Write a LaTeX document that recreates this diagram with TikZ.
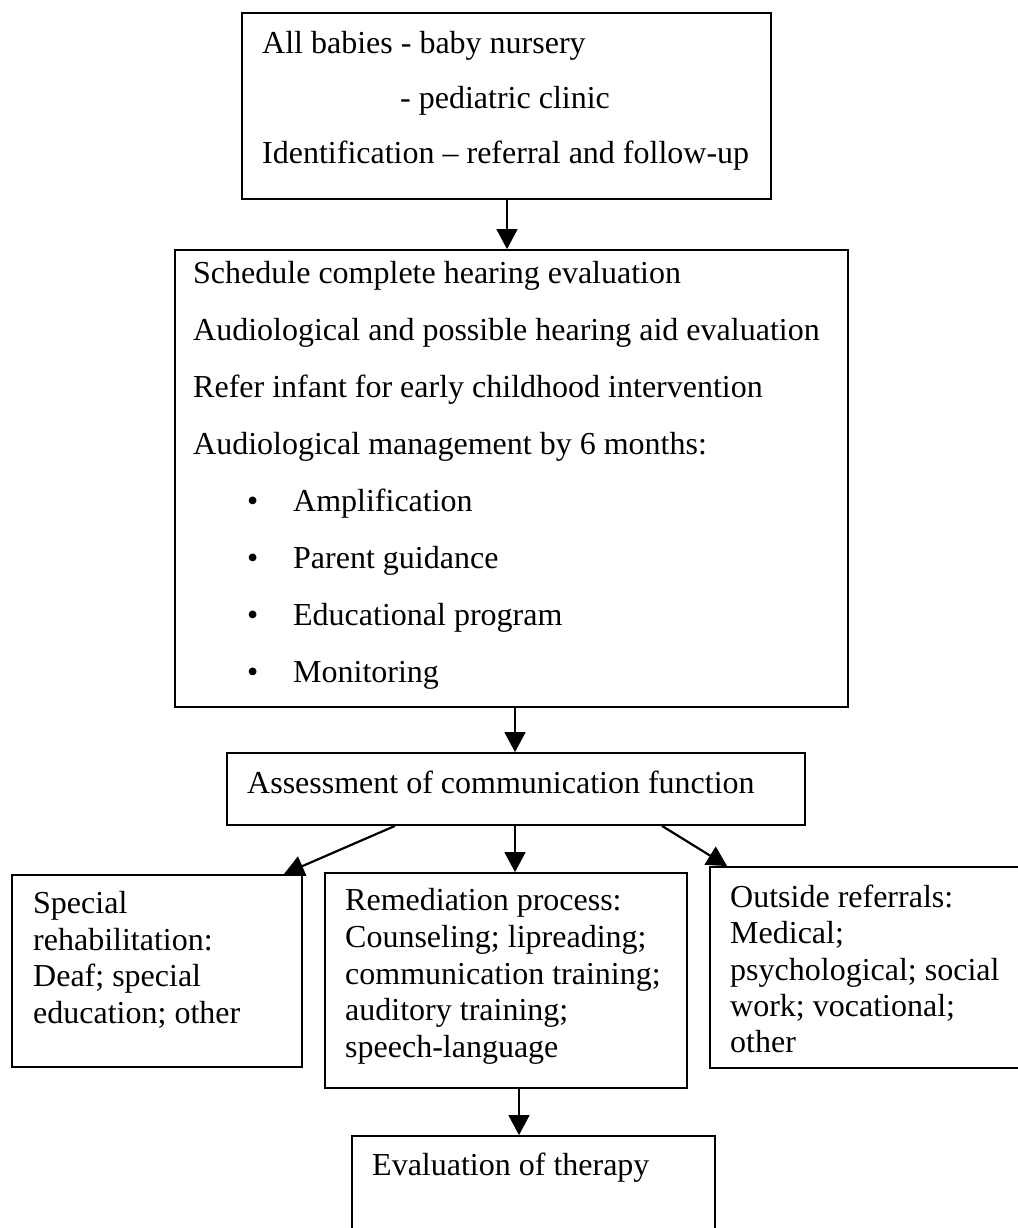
\documentclass[tikz,border=0pt]{standalone}
\usepackage{fontspec}
\setmainfont{Liberation Serif}
\usetikzlibrary{arrows.meta}
\begin{document}
\begin{tikzpicture}[x=1pt,y=1pt,
  box/.style={draw=black, line width=1.8pt, inner sep=0pt},
  txt/.style={inner sep=0pt, anchor=north west, align=left},
  arr/.style={line width=1.5pt, -{Triangle[length=20pt,width=21pt]}},
  sarr/.style={line width=2.2pt, -{Triangle[length=20pt,width=21pt]}}]
\useasboundingbox (0,0) rectangle (1017,-1228);
% boxes
\node[box, minimum width=529, minimum height=186] (b1) at (506.5,-106) {};
\node[box, minimum width=673, minimum height=457] (b2) at (511.5,-478.5) {};
\node[box, minimum width=578, minimum height=72] (b3) at (516,-789) {};
\node[box, minimum width=290, minimum height=192] (b4) at (157,-971) {};
\node[box, minimum width=362, minimum height=215] (b5) at (506,-980.5) {};
\node[box, minimum width=315, minimum height=201] (b6) at (867.5,-967.5) {};
\node[box, minimum width=363, minimum height=104] (b7) at (533.5,-1188) {};
% texts
\node[txt, font=\fontsize{32}{55}\selectfont] (t1) at (262,-31) {All babies - baby nursery\\\hspace*{138pt}- pediatric clinic\\Identification -- referral and follow-up};
\node[txt, font=\fontsize{32}{57}\selectfont] (t2) at (193,-261) {Schedule complete hearing evaluation\\
Audiological and possible hearing aid evaluation\\
Refer infant for early childhood intervention\\
Audiological management by 6 months:\\
\hspace*{54pt}\rlap{\textbullet}\hspace*{46pt}Amplification\\
\hspace*{54pt}\rlap{\textbullet}\hspace*{46pt}Parent guidance\\
\hspace*{54pt}\rlap{\textbullet}\hspace*{46pt}Educational program\\
\hspace*{54pt}\rlap{\textbullet}\hspace*{46pt}Monitoring};
\node[txt, font=\fontsize{32}{40}\selectfont] (t3) at (247,-771) {Assessment of communication function};
\node[txt, font=\fontsize{32}{36.7}\selectfont] (t4) at (33,-891) {Special\\rehabilitation:\\Deaf; special\\education; other};
\node[txt, font=\fontsize{32}{36.8}\selectfont] (t5) at (345,-888) {Remediation process:\\Counseling; lipreading;\\communication training;\\auditory training;\\speech-language};
\node[txt, font=\fontsize{32}{36.2}\selectfont] (t6) at (730,-885) {Outside referrals:\\Medical;\\psychological; social\\work; vocational;\\other};
\node[txt, font=\fontsize{32}{40}\selectfont] (t7) at (372,-1153) {Evaluation of therapy};
% connectors
\draw[arr] ([xshift=0.5pt]b1.south) -- ([xshift=-4.5pt]b2.north);
\draw[arr] ([xshift=3.5pt]b2.south) -- ([xshift=-1pt]b3.north);
\draw[sarr] ([xshift=-121pt]b3.south) -- ([xshift=-19pt]b4.north east);
\draw[arr] ([xshift=-1pt]b3.south) -- ([xshift=9pt]b5.north);
\draw[sarr] ([xshift=146pt]b3.south) -- ([xshift=18pt]b6.north west);
\draw[arr] ([xshift=13pt]b5.south) -- ([xshift=-14.5pt]b7.north);
\end{tikzpicture}
\end{document}
